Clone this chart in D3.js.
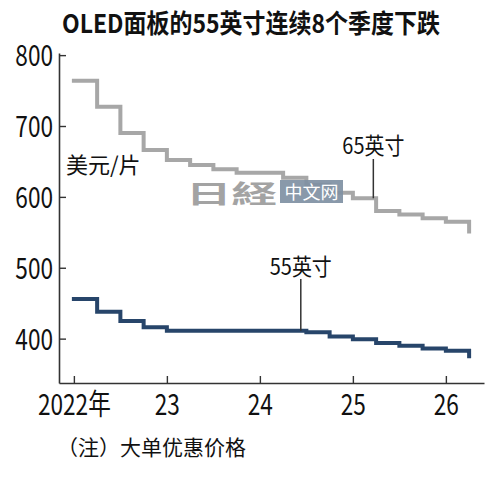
<!DOCTYPE html>
<html>
<head>
<meta charset="utf-8">
<script src="https://cdn.jsdelivr.net/npm/d3@7"></script>
<style>
  body { margin: 0; background: #fff; }
  text { font-family: 'Noto Sans CJK SC', 'Noto Sans', sans-serif; }
</style>
</head>
<body>
<svg id="chart" width="500" height="479"></svg>
<script>
// quarterly list prices, USD per panel
const quarters = [
  '2022Q1', '2022Q2', '2022Q3', '2022Q4',
  '2023Q1', '2023Q2', '2023Q3', '2023Q4',
  '2024Q1', '2024Q2', '2024Q3', '2024Q4',
  '2025Q1', '2025Q2', '2025Q3', '2025Q4',
  '2026Q1', '2026Q2',
];
const price65 = [764, 727, 690, 666, 652, 645, 639, 634, 634, 627, 617, 606, 598, 580, 575, 570, 565, 551];
const price55 = [456, 438, 425, 416, 411, 411, 411, 411, 411, 411, 409, 403, 399, 394, 390, 386, 383, 375];
const yearTicks = [2022, 2023, 2024, 2025, 2026];
const yearLabels = ['2022年', '23', '24', '25', '26'];
const priceTicks = [400, 500, 600, 700, 800];

const svg = d3.select('#chart');

// quarter string -> fractional year
const toYear = (q) => +q.slice(0, 4) + (+q.slice(5) - 1) / 4;

const x = d3.scaleLinear().domain([2021.84, 2026.41]).range([59, 484]);
const y = d3.scaleLinear().domain([337.4, 803]).range([383, 53]);

// title
svg.append('text')
  .attr('x', 251).attr('y', 33)
  .attr('text-anchor', 'middle')
  .attr('font-size', 26).attr('font-weight', 700)
  .attr('textLength', 378).attr('lengthAdjust', 'spacingAndGlyphs')
  .attr('fill', '#111')
  .text('OLED面板的55英寸连续8个季度下跌');

// axes (ticks point inward, labels condensed like the original)
const condense = 0.78;
const yAxis = svg.append('g')
  .attr('transform', `translate(${x.range()[0]},0)`)
  .call(d3.axisLeft(y).tickValues(priceTicks).tickSize(-7).tickSizeOuter(0));
const xAxis = svg.append('g')
  .attr('transform', `translate(0,${y.range()[0]})`)
  .call(d3.axisBottom(x).tickValues(yearTicks).tickSize(-7).tickSizeOuter(0)
    .tickFormat((d, i) => yearLabels[i]));

[yAxis, xAxis].forEach((g) => {
  g.select('.domain').attr('stroke', '#333').attr('stroke-width', 1.6);
  g.selectAll('.tick line').attr('stroke', '#333').attr('stroke-width', 1.4);
  g.selectAll('.tick text')
    .attr('fill', '#111')
    .attr('font-family', "'Liberation Sans', 'Noto Sans CJK SC', sans-serif")
    .attr('font-size', 29);
});
yAxis.selectAll('.tick text')
  .attr('x', -6 / condense).attr('dy', '0.37em')
  .attr('transform', `scale(${condense},1)`);
xAxis.selectAll('.tick text')
  .attr('y', 0).attr('dy', 32)
  .attr('transform', `scale(${condense},1)`);

// unit label
svg.append('text')
  .attr('x', 66).attr('y', 173)
  .attr('font-size', 22).attr('fill', '#111')
  .text('美元/片');

// step lines
const line = d3.line()
  .x((d) => x(toYear(d.q)))
  .y((d) => y(d.v))
  .curve(d3.curveStepAfter);

const series = [
  { values: price65, color: '#a7a7a7' },
  { values: price55, color: '#27456a' },
];
series.forEach((s) => {
  svg.append('path')
    .datum(quarters.map((q, i) => ({ q, v: s.values[i] })))
    .attr('d', line)
    .attr('fill', 'none')
    .attr('stroke', s.color)
    .attr('stroke-width', 4)
    .attr('stroke-linecap', 'square')
    .attr('stroke-linejoin', 'miter');
});

// watermark
const wm = svg.append('g');
wm.append('text')
  .attr('transform', 'translate(186,203) scale(1.75,0.95)')
  .attr('font-family', "'Noto Sans CJK JP', sans-serif")
  .attr('font-size', 26).attr('font-weight', 700)
  .attr('fill', '#9a9a9a').attr('opacity', 0.9)
  .text('日経');
wm.append('rect')
  .attr('x', 280).attr('y', 180).attr('width', 63).attr('height', 23)
  .attr('fill', '#7f90a3').attr('opacity', 0.92);
wm.append('text')
  .attr('x', 311.5).attr('y', 198.5)
  .attr('text-anchor', 'middle')
  .attr('font-size', 18).attr('fill', '#fff')
  .text('中文网');

// series labels with leader lines
const labels = [
  { text: '65英寸', at: 2025.22, v: price65[quarters.indexOf('2025Q1')], ly: 154, top: 159 },
  { text: '55英寸', at: 2024.44, v: price55[quarters.indexOf('2024Q2')], ly: 275, top: 279 },
];
labels.forEach((l) => {
  svg.append('line')
    .attr('x1', x(l.at)).attr('x2', x(l.at))
    .attr('y1', l.top).attr('y2', y(l.v))
    .attr('stroke', '#333').attr('stroke-width', 1.5);
  svg.append('text')
    .attr('x', x(l.at)).attr('y', l.ly)
    .attr('text-anchor', 'middle')
    .attr('font-size', 23).attr('fill', '#111')
    .attr('textLength', 62).attr('lengthAdjust', 'spacingAndGlyphs')
    .text(l.text);
});

// note
svg.append('text')
  .attr('x', 57).attr('y', 455)
  .attr('font-size', 21).attr('fill', '#111')
  .text('（注）大单优惠价格');
</script>
</body>
</html>
